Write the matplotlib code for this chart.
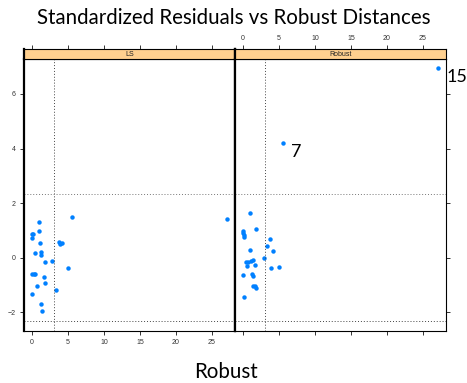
import matplotlib
matplotlib.use('Agg')
import matplotlib.pyplot as plt
import numpy as np

# robust distances (x) and standardized residuals (y)
ls_dist = [5.5, 0.92, 0.92, 0.0, 0.14, 0.0, 1.06, 3.75, 3.93, 4.16, 1.25, 0.46,
           1.29, 2.82, 1.75, 5.0, -0.05, 0.32, 0.42, 1.62, 1.75, 0.74, 3.33,
           0.0, 1.25, 1.39, 27.08]
ls_resid = [1.51, 1.30, 0.97, 0.88, 0.86, 0.73, 0.56, 0.59, 0.49, 0.53, 0.23,
            0.16, 0.10, -0.10, -0.15, -0.39, -0.58, -0.59, -0.59, -0.70, -0.93,
            -1.04, -1.19, -1.31, -1.70, -1.94, 1.43]

rob_dist = [0.97, 1.80, 0.0, 0.0, 0.09, 0.18, 3.78, 3.38, 4.21, 0.97, 2.87,
            1.39, 1.07, 0.37, 0.69, 0.51, 1.67, 3.93, 5.04, -0.04, 1.30, 1.35,
            1.39, 1.62, 1.80, 0.14, 5.56, 27.1]
rob_resid = [1.63, 1.04, 0.99, 0.91, 0.83, 0.76, 0.69, 0.42, 0.26, 0.29, -0.01,
             -0.07, -0.11, -0.15, -0.17, -0.29, -0.27, -0.38, -0.33, -0.64,
             -0.59, -0.68, -1.03, -1.05, -1.09, -1.43, 4.19, 6.95]

panels = ['LS', 'Robust']
dist_cut = 3.04
resid_cut = 2.33
labelled = {'15': (27.1, 6.95), '7': (5.56, 4.19)}

W, H = 467, 383
fig = plt.figure(figsize=(W / 100, H / 100), dpi=100)

xlim = (-1.1, 28.2)
ylim = (-2.68, 7.3)
xticks = [0, 5, 10, 15, 20, 25]
yticks = [-2, 0, 2, 4, 6]
blue = '#0080ff'

def fx(px):
    return px / W

def fy(py):
    return 1 - py / H

data = [(ls_dist, ls_resid), (rob_dist, rob_resid)]
lefts = [24, 235]
pw = 211
ptop, pbot = 58.5, 331
stop = 48.5

for i, name in enumerate(panels):
    ax = fig.add_axes([fx(lefts[i]), fy(pbot), pw / W, (pbot - ptop) / H])
    x, y = data[i]
    ax.plot(x, y, 'o', color=blue, markersize=3.2, markeredgewidth=0)
    ax.axvline(dist_cut, color='#444444', linestyle=(0, (1, 2)), linewidth=0.7)
    ax.axhline(resid_cut, color='#777777', linestyle=(0, (1, 2)), linewidth=0.7)
    ax.axhline(-resid_cut, color='#444444', linestyle=(0, (1, 2)), linewidth=0.7)
    ax.set_xlim(xlim)
    ax.set_ylim(ylim)
    ax.set_xticks(xticks)
    ax.set_yticks(yticks)
    ax.tick_params(direction='out', length=3, width=0.7, pad=3,
                   labelsize=5, colors='#333333')
    for s in ax.spines.values():
        s.set_linewidth(0.8)
    if i == 0:
        ax.spines['left'].set_linewidth(1.6)
        ax.spines['right'].set_linewidth(1.6)
        ax.tick_params(left=True, labelleft=True, right=False,
                       bottom=True, labelbottom=True)
    else:
        ax.spines['left'].set_linewidth(1.6)
        ax.tick_params(left=False, labelleft=False, right=True,
                       labelright=False, bottom=True, labelbottom=False)
    for lab in ax.get_xticklabels() + ax.get_yticklabels():
        lab.set_family('Liberation Sans')
    if i == 1:
        for txt, (tx, ty) in labelled.items():
            ax.annotate(txt, (tx, ty), xytext=(5.8, -6.5),
                        textcoords='offset points', ha='left', va='center',
                        fontsize=13, family='Lato', annotation_clip=False)

    # strip with the panel name
    st = fig.add_axes([fx(lefts[i]), fy(ptop), pw / W, (ptop - stop) / H])
    st.set_facecolor('#ffd08f')
    st.set_xlim(xlim)
    st.set_xticks(xticks)
    st.set_yticks([])
    st.xaxis.tick_top()
    st.tick_params(direction='out', length=3, width=0.7, pad=2,
                   labelsize=5, colors='#333333', labeltop=(i == 1),
                   bottom=False, labelbottom=False)
    for lab in st.get_xticklabels():
        lab.set_family('Liberation Sans')
    for s in st.spines.values():
        s.set_linewidth(0.8)
    st.spines['left'].set_linewidth(1.6)
    if i == 0:
        st.spines['right'].set_linewidth(1.6)
    st.text(0.5, 0.45, name, transform=st.transAxes, ha='center', va='center',
            fontsize=5, family='Liberation Sans', color='#222222')

fig.text(fx(233.5), fy(18), 'Standardized Residuals vs Robust Distances',
         ha='center', va='center', fontsize=14.8, family='Lato')
fig.text(fx(226.5), fy(372), 'Robust', ha='center', va='center',
         fontsize=14.8, family='Lato')

fig.savefig('out.png', dpi=100)
